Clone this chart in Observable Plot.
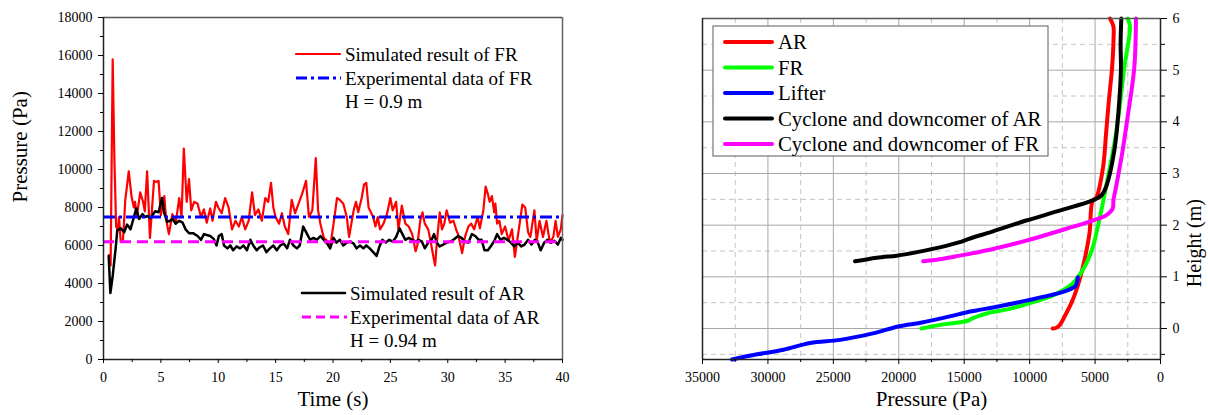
<!DOCTYPE html>
<html><head><meta charset="utf-8">
<script src="https://cdn.jsdelivr.net/npm/d3@7"></script>
<script src="https://cdn.jsdelivr.net/npm/@observablehq/plot@0.6"></script>
<style>
body{margin:0;background:#fff;font-family:"Liberation Serif","DejaVu Serif","Times New Roman",serif;}
#wrap{position:relative;width:1208px;height:415px;overflow:hidden;}
.panel{position:absolute;top:0;}
#wrap svg, #wrap svg text{font-family:"Liberation Serif","DejaVu Serif","Times New Roman",serif !important;}
#overlay{position:absolute;left:0;top:0;pointer-events:none;}
</style></head><body><div id="wrap"></div>
<script>
// ---------- Left chart data (pressure vs time at riser heights) ----------
const frTime = [0.5,0.62,0.8,0.95,1.1,1.25,1.35,1.5,1.7,1.9,2.2,2.45,2.65,2.75,2.9,3.2,3.45,3.6,3.8,4.05,4.4,4.6,4.8,5.0,5.3,5.45,5.7,6.0,6.3,6.6,6.8,7.0,7.25,7.45,7.65,7.9,8.2,8.5,8.75,9.0,9.3,9.5,9.8,10.0,10.3,10.6,10.9,11.2,11.5,11.8,12.05,12.35,12.65,12.95,13.2,13.5,13.8,14.1,14.35,14.6,14.8,15.0,15.3,15.55,15.8,16.1,16.4,16.7,17.0,17.3,17.65,17.9,18.2,18.5,18.7,18.9,19.2,19.5,19.75,20.05,20.35,20.6,20.9,21.2,21.4,21.8,22.0,22.2,22.5,22.7,22.9,23.1,23.3,23.5,23.7,23.9,24.1,24.4,24.7,25.0,25.2,25.5,25.7,26.0,26.3,26.6,26.9,27.2,27.35,27.6,27.8,28.0,28.3,28.5,28.75,28.9,29.05,29.3,29.5,29.7,29.9,30.2,30.5,30.75,30.9,31.25,31.5,31.8,32.05,32.3,32.6,32.8,33.1,33.3,33.5,33.65,33.85,34.05,34.15,34.3,34.5,34.7,35.0,35.3,35.6,35.85,36.1,36.5,36.75,37.0,37.2,37.55,37.75,38.0,38.3,38.6,38.9,39.2,39.4,39.6,39.85,40.0];
const frPressure = [5500,4950,15800,10500,7000,6800,7500,6200,6300,8400,9900,8550,8000,8300,7500,8800,8300,7800,9900,6400,9400,9350,9400,7600,8600,7400,6600,7650,7200,8500,7500,11100,8300,9500,7850,8300,8200,7500,7900,7200,7950,7300,8300,8000,7700,8500,8000,6850,7300,7000,7500,6850,7300,8800,7600,7900,7300,8500,8300,9300,8000,7500,7150,7700,7000,6600,8400,7700,8200,8700,9400,7500,7850,10600,7850,7150,6400,6250,5900,7150,8500,8400,8200,7500,6450,7850,8300,7750,8500,9200,9300,8000,7750,7500,7000,7500,6850,7150,7650,8500,7850,8300,6850,8100,7150,7000,6600,5700,6000,7300,7750,7150,6850,6250,5400,4950,6150,7750,6850,7150,7850,7200,7300,6800,6600,5600,6450,7000,7150,6850,7500,6900,7850,9100,8700,8300,8600,7750,8200,7150,7300,6600,7000,6250,6850,5400,6450,8150,8000,6700,6450,7850,6250,7300,6450,7300,6150,6450,7300,6450,6850,7600];
const arTime = [0.45,0.6,0.8,1.05,1.2,1.5,1.8,2.05,2.35,2.65,2.85,3.1,3.4,3.6,3.8,4.1,4.5,4.8,5.1,5.3,5.55,5.8,6.0,6.3,6.6,6.9,7.15,7.45,7.8,8.2,8.5,8.75,9.0,9.3,9.6,9.85,10.05,10.3,10.5,10.8,11.05,11.3,11.6,11.9,12.2,12.5,12.8,13.05,13.35,13.6,13.9,14.2,14.5,14.8,15.1,15.4,15.7,16.0,16.25,16.55,16.85,17.1,17.4,17.7,18.0,18.3,18.6,18.9,19.2,19.5,19.75,20.05,20.3,20.6,20.9,21.2,21.5,21.8,22.05,22.35,22.65,22.9,23.2,23.5,23.8,24.05,24.3,24.6,24.9,25.2,25.5,25.8,26.05,26.3,26.6,26.9,27.2,27.45,27.75,28.0,28.3,28.6,28.8,29.05,29.3,29.6,29.9,30.2,30.5,30.9,31.2,31.5,31.8,32.1,32.4,32.7,32.95,33.2,33.5,33.8,34.1,34.3,34.6,34.9,35.2,35.5,35.8,36.1,36.4,36.7,37.0,37.3,37.6,37.85,38.1,38.4,38.7,39.0,39.3,39.6,39.85,40.0];
const arPressure = [5450,3500,4400,5800,6800,6900,6700,7100,6850,7500,7950,7400,7650,7500,7550,7450,7800,7750,8500,7700,7250,7300,7400,7150,7300,7200,6850,6650,6650,6500,6300,6600,6550,6500,6350,6000,6500,6600,6000,5850,6000,5750,5950,5850,6000,5750,6300,6000,5750,5900,6000,5650,5850,6000,5750,6000,6100,5850,6300,6000,5850,6000,7000,6650,6300,6400,6300,6500,6300,6100,5850,6400,6150,6300,6000,6150,6200,6100,5850,6000,5850,6000,5850,5650,5450,5950,6300,6150,6300,6200,6450,6900,6600,6300,6400,6300,6200,6300,6200,5850,6150,6300,6600,6150,5950,6050,6150,6200,6300,6500,6400,6200,6150,6600,6500,6300,6300,5750,5750,6000,6300,6600,6300,6400,6300,6150,5950,6150,5950,6050,6300,6050,6300,6150,5750,6150,6300,6150,6250,6050,6400,6300];
const expFR = [7500];   // Experimental data of FR, H = 0.9 m
const expAR = [6200];   // Experimental data of AR, H = 0.94 m
const timeDomain = [0, 40];
const leftPDomain = [0, 18000];
const timeTicks = [0,5,10,15,20,25,30,35,40];
const timeMinor = [2.5,7.5,12.5,17.5,22.5,27.5,32.5,37.5];
const leftPTicks = [0,2000,4000,6000,8000,10000,12000,14000,16000,18000];
const leftPMinor = [1000,3000,5000,7000,9000,11000,13000,15000,17000];

// ---------- Right chart data (pressure profile vs height) ----------
const arP = [3860,3600,3590,3700,3950,4160,4400,4920,5180,5430,5810,6200,6730,7210,7720,8000,8240];
const arH = [6.0,5.85,5.6,5.05,4.4,3.77,3.1,2.53,2.48,1.84,1.32,0.93,0.54,0.29,0.06,0.01,0.0];
const frP = [2516,2333,2767,3400,4160,4470,4800,5180,5810,6710,7970,9750,11530,13000,13300,13820,14340,14730,15340,16610,18260];
const frH = [6.0,5.85,5.05,3.77,2.74,2.35,1.96,1.57,1.19,0.87,0.67,0.51,0.38,0.31,0.29,0.25,0.2,0.15,0.12,0.08,0.0];
const lifterP = [6320,6380,6500,7210,8480,10260,12290,14070,14710,15340,18140,20040,22070,24480,26770,28800,30830,32740];
const lifterH = [0.99,0.9,0.82,0.73,0.64,0.54,0.43,0.35,0.32,0.28,0.12,0.04,-0.1,-0.22,-0.28,-0.41,-0.5,-0.6];
const cycARP = [2996,3050,3020,3150,3530,4160,4540,5180,7720,10260,12800,14710,15340,16870,19400,20160,21690,23340];
const cycARH = [6.0,5.5,5.05,4.4,3.44,2.74,2.57,2.48,2.28,2.09,1.88,1.73,1.67,1.57,1.44,1.41,1.37,1.30];
const cycFRP = [1876,2003,2516,2897,3404,3600,3656,4163,5180,7210,10260,12800,14710,15340,16610,18140];
const cycFRH = [6.0,5.05,4.09,3.44,2.73,2.48,2.32,2.19,2.09,1.93,1.70,1.54,1.44,1.41,1.35,1.30];
const seriesNames = ["AR","FR","Lifter","Cyclone and downcomer of AR","Cyclone and downcomer of FR"];
const seriesColors = ["#ff0000","#00ff00","#0000ff","#000000","#ff00ff"];
const rightPDomain = [35000, 0];
const heightDomain = [-0.6, 6];
const rightPTicks = [35000,30000,25000,20000,15000,10000,5000,0];
const rightPMinor = [32500,27500,22500,17500,12500,7500,2500];
const heightTicks = [0,1,2,3,4,5,6];
const heightMinor = [-0.5,0.5,1.5,2.5,3.5,4.5,5.5];

// ---------- build tables ----------
const fr = frTime.map((t,i)=>({t, p: frPressure[i]}));
const ar = arTime.map((t,i)=>({t, p: arPressure[i]}));
const profiles = [
  [arP, arH], [frP, frH], [lifterP, lifterH], [cycARP, cycARH], [cycFRP, cycFRH]
].flatMap(([P,H], k) => P.map((p,i)=>({s: seriesNames[k], p, h: H[i]})));

const fmt = d3.format("d");
const FONT = '"Liberation Serif", "DejaVu Serif", "Times New Roman", serif';
const wrap = document.getElementById("wrap");

const left = Plot.plot({
  width: 604, height: 415,
  marginLeft: 103, marginRight: 42, marginTop: 17, marginBottom: 56,
  x: {domain: timeDomain},
  y: {domain: leftPDomain},
  style: {fontFamily: FONT, fontSize: "14px", color: "#000", background: "transparent"},
  marks: [
    Plot.line(fr, {x: "t", y: "p", stroke: "#ff0000", strokeWidth: 2.2}),
    Plot.line(ar, {x: "t", y: "p", stroke: "#000000", strokeWidth: 2.5}),
    Plot.ruleY(expFR, {stroke: "#0000ff", strokeWidth: 3, strokeDasharray: "12,4,3,4"}),
    Plot.ruleY(expAR, {stroke: "#ff00ff", strokeWidth: 3, strokeDasharray: "11,6"}),
    Plot.ruleX([timeDomain[1]], {stroke: "#666", strokeWidth: 1.5}),
    Plot.ruleY([leftPDomain[1]], {stroke: "#555", strokeWidth: 1.5}),
    Plot.ruleX([timeDomain[0]], {stroke: "#222", strokeWidth: 1.5}),
    Plot.ruleY([leftPDomain[0]], {stroke: "#222", strokeWidth: 1.5}),
    Plot.axisX(timeTicks, {tickSize: 4, tickPadding: 9, tickFormat: fmt, label: null, fontSize: 14}),
    Plot.axisX(timeMinor, {tickSize: 3, tickFormat: () => "", label: null}),
    Plot.axisY(leftPTicks, {tickSize: 5, tickPadding: 6, tickFormat: fmt, label: null, fontSize: 14}),
    Plot.axisY(leftPMinor, {tickSize: 3, tickFormat: () => "", label: null}),
    Plot.text(["Time (s)"], {frameAnchor: "bottom", dy: 46, fontSize: 21, text: d => d}),
    Plot.text(["Pressure (Pa)"], {frameAnchor: "left", dx: -83, dy: 14, rotate: -90, fontSize: 21, text: d => d})
  ]
});
left.classList.add("panel"); left.style.left = "0px";
wrap.appendChild(left);

const right = Plot.plot({
  width: 604, height: 415,
  marginLeft: 98, marginRight: 48, marginTop: 18, marginBottom: 56,
  x: {domain: rightPDomain},
  y: {domain: heightDomain},
  color: {domain: seriesNames, range: seriesColors},
  style: {fontFamily: FONT, fontSize: "14px", color: "#000", background: "transparent"},
  marks: [
    Plot.gridX(rightPMinor, {stroke: "#c4c4c4", strokeOpacity: 1, strokeDasharray: "5,4"}),
    Plot.gridY(heightMinor, {stroke: "#c4c4c4", strokeOpacity: 1, strokeDasharray: "5,4"}),
    Plot.gridX(rightPTicks.slice(1, -1), {stroke: "#a8a8a8", strokeOpacity: 1}),
    Plot.gridY(heightTicks.slice(0, -1), {stroke: "#a8a8a8", strokeOpacity: 1}),
    Plot.line(profiles, {x: "p", y: "h", z: "s", stroke: "s", strokeWidth: 4, strokeLinecap: "round", strokeLinejoin: "round", curve: "catmull-rom"}),
    Plot.ruleY([heightDomain[1]], {stroke: "#555", strokeWidth: 1.5}),
    Plot.ruleX([rightPDomain[0]], {stroke: "#222", strokeWidth: 1.5}),
    Plot.ruleX([rightPDomain[1]], {stroke: "#222", strokeWidth: 1.5}),
    Plot.ruleY([heightDomain[0]], {stroke: "#222", strokeWidth: 1.5}),
    Plot.axisX(rightPTicks, {tickSize: 5, tickPadding: 8, tickFormat: fmt, label: null, fontSize: 14}),
    Plot.axisX(rightPMinor, {tickSize: 3, tickFormat: () => "", label: null}),
    Plot.axisY(heightTicks, {anchor: "right", tickSize: 6, tickPadding: 6, tickFormat: fmt, label: null, fontSize: 14}),
    Plot.axisY(heightMinor, {anchor: "right", tickSize: 4, tickFormat: () => "", label: null}),
    Plot.text(["Pressure (Pa)"], {frameAnchor: "bottom", dy: 46, fontSize: 21, text: d => d}),
    Plot.text(["Height (m)"], {frameAnchor: "right", dx: 34, dy: 10, rotate: -90, fontSize: 20, text: d => d})
  ]
});
right.classList.add("panel"); right.style.left = "604px";
wrap.appendChild(right);

// ---------- legends ----------
const ov = d3.select(wrap).append("svg").attr("id", "overlay").attr("width", 1208).attr("height", 415)
  .style("font-family", FONT);
function row(g, x1, x2, y, color, width, dash, label, tx, fs) {
  if (color) g.append("line").attr("x1", x1).attr("x2", x2).attr("y1", y).attr("y2", y)
    .attr("stroke", color).attr("stroke-width", width).attr("stroke-dasharray", dash || null)
    .attr("stroke-linecap", dash ? "butt" : "round");
  g.append("text").attr("x", tx).attr("y", y).attr("dy", "0.35em").attr("font-size", fs)
    .attr("font-family", FONT).attr("fill", "#000").text(label);
}
const lg1 = ov.append("g");
row(lg1, 296, 340, 54, "#ff0000", 2.2, null, "Simulated result of FR", 345, 19);
row(lg1, 296, 341, 78, "#0000ff", 3, "11,4,3,4", "Experimental data of FR", 345, 19);
row(lg1, 0, 0, 101, null, 0, null, "H = 0.9 m", 345, 19);
const lg2 = ov.append("g");
row(lg2, 302, 345, 293, "#000000", 2.5, null, "Simulated result of AR", 350, 19);
row(lg2, 302, 347, 317, "#ff00ff", 3, "9,5", "Experimental data of AR", 350, 19);
row(lg2, 0, 0, 340, null, 0, null, "H = 0.94 m", 350, 19);
const lg3 = ov.append("g");
lg3.append("rect").attr("x", 713).attr("y", 26).attr("width", 335).attr("height", 130)
  .attr("fill", "#fff").attr("stroke", "#777").attr("stroke-width", 1.2);
seriesNames.forEach((n, i) => row(lg3, 725, 772, 42 + i * 25.5, seriesColors[i], 4, null, n, 778, 20.8));
</script></body></html>
